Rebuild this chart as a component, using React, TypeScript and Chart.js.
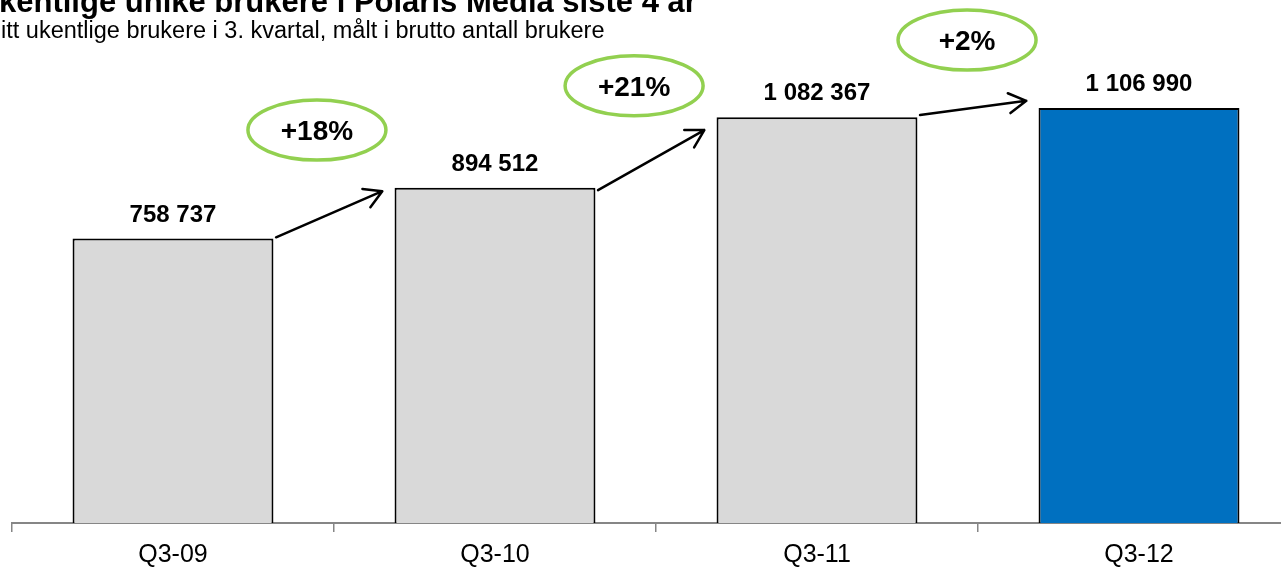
import React, { useEffect, useRef } from "react";
import { Chart, registerables } from "chart.js";

Chart.register(...registerables);

const categories = ["Q3-09", "Q3-10", "Q3-11", "Q3-12"];
const users = [758737, 894512, 1082367, 1106990];
const barColors = ["#D9D9D9", "#D9D9D9", "#D9D9D9", "#0070C0"];
const growthLabels = ["+18%", "+21%", "+2%"];
const arrowStartValues = [762000, 888000, 1088000];
const arrowEndValues = [885000, 1048000, 1126000];
const bubbleX = [0.447, 1.432, 2.466];
const bubbleValues = [1048000, 1166000, 1288000];
const titleText = "kentlige unike brukere i Polaris Media siste 4 år";
const subtitleText = "itt ukentlige brukere i 3. kvartal, målt i brutto antall brukere";

const FONT = "'Liberation Sans', Arial, Helvetica, sans-serif";

const fmt = (n: number) => String(n).replace(/\B(?=(\d{3})+(?!\d))/g, " ");

const overlay = {
  id: "overlay",
  afterDatasetsDraw(chart: any) {
    const ctx = chart.ctx as CanvasRenderingContext2D;
    const meta = chart.getDatasetMeta(0);
    const xs = chart.scales.x;
    const ys = chart.scales.y;
    ctx.save();

    // value labels
    ctx.font = `bold 24px ${FONT}`;
    ctx.fillStyle = "#000";
    ctx.textAlign = "center";
    ctx.textBaseline = "alphabetic";
    meta.data.forEach((bar: any, i: number) => {
      ctx.fillText(fmt(users[i]), bar.x, bar.y - 17);
    });

    // arrows
    ctx.strokeStyle = "#000";
    ctx.lineWidth = 2.5;
    ctx.lineCap = "round";
    ctx.lineJoin = "round";
    for (let i = 0; i < arrowStartValues.length; i++) {
      const x1 = xs.getPixelForValue(i + 0.32);
      const y1 = ys.getPixelForValue(arrowStartValues[i]);
      const x2 = xs.getPixelForValue(i + 1 - 0.35);
      const y2 = ys.getPixelForValue(arrowEndValues[i]);
      ctx.beginPath();
      ctx.moveTo(x1, y1);
      ctx.lineTo(x2, y2);
      const a = Math.atan2(y1 - y2, x1 - x2);
      const L = 20;
      const s = Math.PI / 6;
      ctx.moveTo(x2 + L * Math.cos(a - s), y2 + L * Math.sin(a - s));
      ctx.lineTo(x2, y2);
      ctx.lineTo(x2 + L * Math.cos(a + s), y2 + L * Math.sin(a + s));
      ctx.stroke();
    }

    // growth bubbles
    for (let i = 0; i < growthLabels.length; i++) {
      const cx = xs.getPixelForValue(bubbleX[i]);
      const cy = ys.getPixelForValue(bubbleValues[i]);
      ctx.beginPath();
      ctx.ellipse(cx, cy, 69, 30, 0, 0, Math.PI * 2);
      ctx.fillStyle = "#FFFFFF";
      ctx.fill();
      ctx.strokeStyle = "#92D050";
      ctx.lineWidth = 3.5;
      ctx.stroke();
      ctx.fillStyle = "#000";
      ctx.font = `bold 28px ${FONT}`;
      ctx.textAlign = "center";
      ctx.textBaseline = "middle";
      ctx.fillText(growthLabels[i], cx, cy + 2);
    }

    // titles
    ctx.textAlign = "left";
    ctx.textBaseline = "alphabetic";
    ctx.fillStyle = "#000";
    ctx.font = `bold 31px ${FONT}`;
    ctx.fillText(titleText, -1, 12);
    ctx.font = `23.5px ${FONT}`;
    ctx.fillText(subtitleText, 1, 38);

    ctx.restore();
  },
};

export default function App() {
  const ref = useRef<HTMLCanvasElement | null>(null);

  useEffect(() => {
    if (!ref.current) return;
    const chart = new Chart(ref.current, {
      type: "bar",
      data: {
        labels: categories,
        datasets: [
          {
            data: users,
            backgroundColor: barColors,
            borderColor: "#000000",
            borderWidth: 2,
            borderSkipped: "bottom",
            categoryPercentage: 1,
            barPercentage: 0.624,
          },
        ],
      },
      options: {
        responsive: false,
        devicePixelRatio: 1,
        animation: false,
        layout: { padding: { left: 12, right: 0, top: 0, bottom: 0 } },
        plugins: {
          legend: { display: false },
          tooltip: { enabled: false },
          title: { display: false },
        },
        scales: {
          x: {
            offset: true,
            grid: {
              display: true,
              offset: true,
              drawOnChartArea: false,
              drawTicks: true,
              tickLength: 9,
              color: "#868686",
              lineWidth: 1.5,
            },
            border: { display: true, color: "#868686", width: 2 },
            ticks: {
              color: "#000",
              font: { family: FONT, size: 25 },
              padding: 8,
              maxRotation: 0,
            },
            afterFit(scale: any) {
              scale.height = 44;
            },
          },
          y: {
            display: false,
            min: 0,
            max: 1395000,
          },
        },
      },
      plugins: [overlay],
    });
    return () => chart.destroy();
  }, []);

  return (
    <div
      style={{
        position: "fixed",
        left: 0,
        top: 0,
        width: 1281,
        height: 567,
        overflow: "hidden",
        background: "#fff",
      }}
    >
      <canvas ref={ref} width={1300} height={567} style={{ display: "block", width: 1300, height: 567 }} />
    </div>
  );
}
